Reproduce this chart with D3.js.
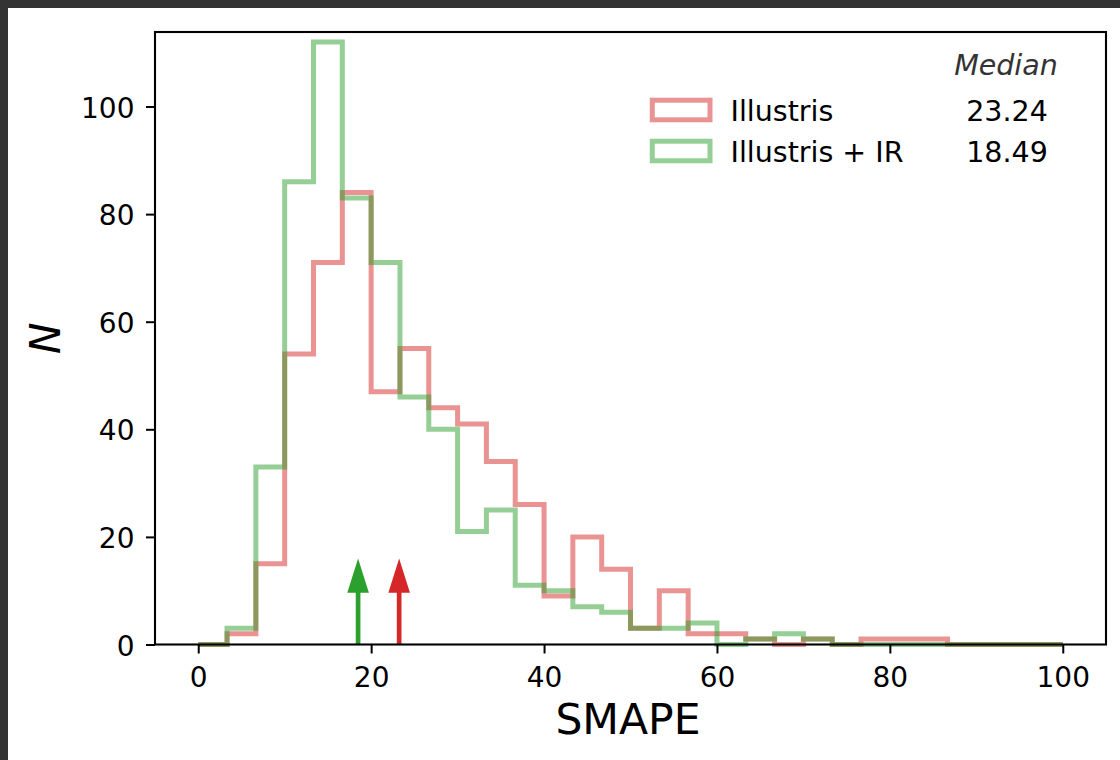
<!DOCTYPE html>
<html>
<head>
<meta charset="utf-8">
<script src="https://cdn.jsdelivr.net/npm/d3@7"></script>
<style>
  html, body { margin: 0; padding: 0; background: #ffffff; }
  svg { display: block; }
  text { font-family: "DejaVu Sans", sans-serif; }
</style>
</head>
<body>
<svg id="chart" width="1120" height="760"></svg>
<script>
// ---------------- data ----------------
const seriesNames = ["Illustris", "Illustris + IR"];
const seriesColors = ["#d62728", "#2ca02c"];
const binRange = [0, 100];
const binCount = 30;
const illustrisCounts = [0, 2, 15, 54, 71, 84, 47, 55, 44, 41, 34, 26, 9, 20, 14, 3, 10, 2, 2, 1, 0, 1, 0, 1, 1, 1, 0, 0, 0, 0];
const illustrisIRCounts = [0, 3, 33, 86, 112, 83, 71, 46, 40, 21, 25, 11, 10, 7, 6, 3, 3, 4, 0, 1, 2, 1, 0, 0, 0, 0, 0, 0, 0, 0];
const medians = [23.24, 18.49];
const medianLabels = ["23.24", "18.49"];
const xTicks = [0, 20, 40, 60, 80, 100];
const yTicks = [0, 20, 40, 60, 80, 100];
const xDomain = [-5, 105];
const yDomain = [0, 113.85];
const xLabel = "SMAPE";
const yLabel = "N";
const medianTitle = "Median";
// arrow geometry in data units
const arrowLen = 16, arrowHeadLen = 6.4, arrowHeadHalfW = 1.25, arrowShaftHalfW = 0.27;

// ---------------- layout ----------------
const svg = d3.select("#chart");
const W = 1120, H = 760;
const plot = { left: 155, right: 1106, top: 32, bottom: 644.5 };
const tickFont = "28px", labelFont = "42.5px", legendFont = "28.5px";

// dark screenshot border (top & left)
svg.append("rect").attr("x", 0).attr("y", 0).attr("width", W).attr("height", H).attr("fill", "#ffffff");
svg.append("rect").attr("x", 0).attr("y", 0).attr("width", W).attr("height", 8).attr("fill", "#333333");
svg.append("rect").attr("x", 0).attr("y", 0).attr("width", 8).attr("height", H).attr("fill", "#333333");

const x = d3.scaleLinear().domain(xDomain).range([plot.left, plot.right]);
const y = d3.scaleLinear().domain(yDomain).range([plot.bottom, plot.top]);

const binWidth = (binRange[1] - binRange[0]) / binCount;
const edges = d3.range(binCount + 1).map(i => binRange[0] + i * binWidth);

function stepPoints(counts) {
  const pts = [[edges[0], 0]];
  counts.forEach((c, i) => {
    pts.push([edges[i], c]);
    pts.push([edges[i + 1], c]);
  });
  pts.push([edges[edges.length - 1], 0]);
  return pts;
}

const line = d3.line().x(d => x(d[0])).y(d => y(d[1]));

const g = svg.append("g");
[illustrisCounts, illustrisIRCounts].forEach((counts, k) => {
  g.append("path")
    .attr("d", line(stepPoints(counts)))
    .attr("fill", "none")
    .attr("stroke", seriesColors[k])
    .attr("stroke-opacity", 0.5)
    .attr("stroke-width", 5)
    .attr("stroke-linejoin", "miter");
});

// median arrows
medians.forEach((m, k) => {
  const pts = [
    [m - arrowShaftHalfW, 0],
    [m - arrowShaftHalfW, arrowLen - arrowHeadLen],
    [m - arrowHeadHalfW, arrowLen - arrowHeadLen],
    [m, arrowLen],
    [m + arrowHeadHalfW, arrowLen - arrowHeadLen],
    [m + arrowShaftHalfW, arrowLen - arrowHeadLen],
    [m + arrowShaftHalfW, 0]
  ];
  g.append("path")
    .attr("d", line(pts) + "Z")
    .attr("fill", seriesColors[k])
    .attr("stroke", "none");
});

// axes
const xAxis = d3.axisBottom(x).tickValues(xTicks).tickSize(9).tickPadding(6).tickFormat(d3.format("d"));
const yAxis = d3.axisLeft(y).tickValues(yTicks).tickSize(9).tickPadding(9).tickFormat(d3.format("d"));

const gx = svg.append("g").attr("transform", `translate(0,${plot.bottom})`).call(xAxis);
const gy = svg.append("g").attr("transform", `translate(${plot.left},0)`).call(yAxis);
[gx, gy].forEach(a => {
  a.select(".domain").remove();
  a.selectAll(".tick line").attr("stroke", "#000").attr("stroke-width", 2);
  a.selectAll(".tick text").attr("fill", "#000").style("font-size", tickFont).style("font-family", "DejaVu Sans");
});
gx.selectAll(".tick text").attr("dy", null).attr("y", 42.5);
gy.selectAll(".tick text").attr("dy", null).attr("dominant-baseline", "auto").attr("y", 10.5).attr("x", -20.5);

// frame
svg.append("rect")
  .attr("x", plot.left).attr("y", plot.top)
  .attr("width", plot.right - plot.left).attr("height", plot.bottom - plot.top)
  .attr("fill", "none").attr("stroke", "#000").attr("stroke-width", 2.1);

// axis labels
svg.append("text")
  .attr("x", 628).attr("y", 733.5)
  .attr("text-anchor", "middle").style("font-size", labelFont).attr("fill", "#000")
  .text(xLabel);
svg.append("text")
  .attr("transform", `translate(60,${(plot.top + plot.bottom) / 2}) rotate(-90)`)
  .attr("text-anchor", "middle").style("font-size", labelFont).style("font-style", "italic").attr("fill", "#000")
  .text(yLabel);

// legend
const leg = svg.append("g");
const legRows = [110, 151];
seriesNames.forEach((name, k) => {
  leg.append("rect")
    .attr("x", 652.3).attr("y", legRows[k] - 9.8)
    .attr("width", 57.7).attr("height", 19.6)
    .attr("fill", "none")
    .attr("stroke", seriesColors[k]).attr("stroke-opacity", 0.5).attr("stroke-width", 5);
  leg.append("text")
    .attr("x", 730.5).attr("y", legRows[k] + 10.8)
    .style("font-size", legendFont).attr("fill", "#000")
    .text(name);
  leg.append("text")
    .attr("x", 1007).attr("y", legRows[k] + 10.8)
    .attr("text-anchor", "middle")
    .style("font-size", legendFont).attr("fill", "#000")
    .text(medianLabels[k]);
});
leg.append("text")
  .attr("x", 1006).attr("y", 75)
  .attr("text-anchor", "middle")
  .style("font-size", legendFont).style("font-style", "italic").attr("fill", "#333333")
  .text(medianTitle);
</script>
</body>
</html>
